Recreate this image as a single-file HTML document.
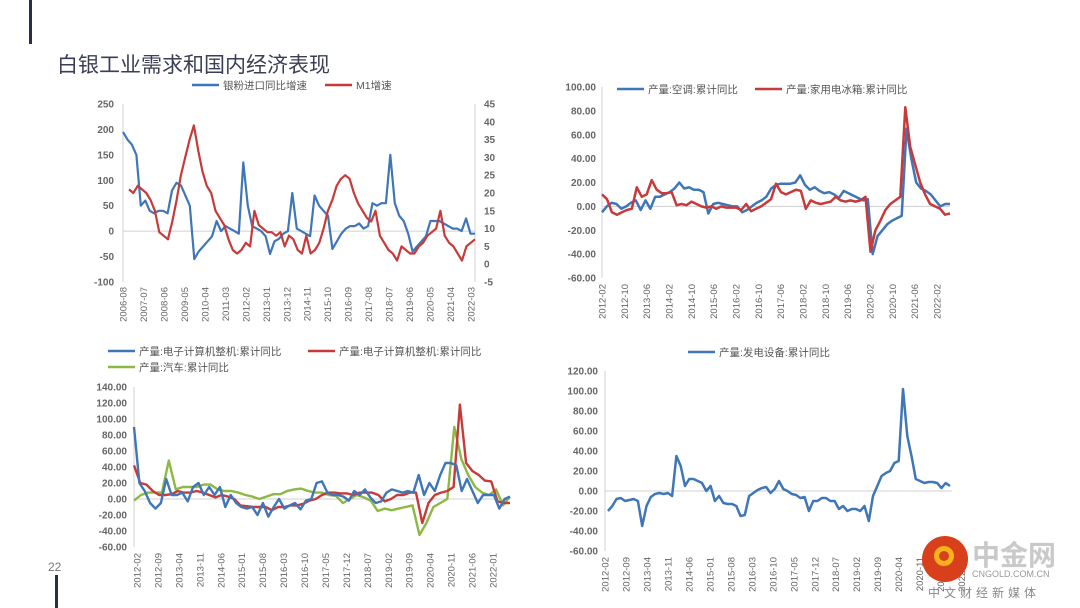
<!DOCTYPE html>
<html><head><meta charset="utf-8"><style>
body{margin:0;width:1080px;height:608px;background:#fff;overflow:hidden;font-family:"Liberation Sans","Noto Sans CJK SC",sans-serif;position:relative}
#title{position:absolute;left:57px;top:49px;font-size:21px;color:#3a3f55}
</style></head><body>
<div style="position:absolute;left:29px;top:0;width:3px;height:44px;background:#2b2f45"></div>
<div style="position:absolute;left:55px;top:575px;width:3px;height:33px;background:#2b2f45"></div>
<div id="title">白银工业需求和国内经济表现</div>
<div style="position:absolute;left:48px;top:560px;font-size:12px;color:#777">22</div>
<svg id="svg" width="1080" height="608" style="position:absolute;left:0;top:0"></svg>
<div style="position:absolute;left:922px;top:536px;width:46px;height:46px;border-radius:50%;background:#d8401c"><div style="position:absolute;left:12px;top:10px;width:20px;height:20px;border-radius:50%;border:5px solid #f6b21a;box-sizing:border-box"></div></div>
<div style="position:absolute;left:972px;top:534px;font-size:28px;font-weight:bold;color:#c9c9c9">中金网</div>
<div style="position:absolute;left:972px;top:569px;font-size:9px;color:#999">CNGOLD.COM.CN</div>
<div style="position:absolute;left:928px;top:584px;font-size:12px;letter-spacing:4px;color:#888">中文财经新媒体</div>
<script>
// ---- chart 1 data ----
const c1Labels=["2006-08","2007-07","2008-06","2009-05","2010-04","2011-03","2012-02","2013-01","2013-12","2014-11","2015-10","2016-09","2017-08","2018-07","2019-06","2020-05","2021-04","2022-03"];
const c1LeftTicks=[250,200,150,100,50,0,-50,-100];
const c1RightTicks=[45,40,35,30,25,20,15,10,5,0,-5];
const c1Silver=[195,180,170,150,50,60,40,35,40,40,35,80,95,90,70,50,-55,-40,-30,-20,-10,20,0,10,5,0,-5,135,50,10,5,0,-10,-45,-20,-15,-5,0,75,5,0,-5,-10,70,50,40,30,-35,-20,-5,5,10,10,15,5,10,55,50,55,55,150,55,30,20,-5,-40,-30,-20,-10,20,20,20,15,10,5,5,0,25,-5,-5];
const c1M1=[21,20,22,21,20,18,15,9,8,7,12,18,25,30,35,39,32,26,22,20,15,13,11,7,4,3,4,6,5,15,11,10,9,9,8,9,5,8,7,4,3,8,3,4,6,10,15,18,22,24,25,24,20,17,15,13,12,15,8,6,4,3,1,5,4,3,3,5,6,8,9,10,15,8,6,5,3,1,5,6,7];
// ---- chart 2 data ----
const c2Labels=["2012-02","2012-10","2013-06","2014-02","2014-10","2015-06","2016-02","2016-10","2017-06","2018-02","2018-10","2019-06","2020-02","2020-10","2021-06","2022-02"];
const c2Ticks=[100,80,60,40,20,0,-20,-40,-60];
const c2AC=[-5,0,3,2,-2,0,3,5,-3,5,-2,8,8,10,12,15,20,15,16,14,14,12,-6,2,3,2,1,0,0,-5,-3,0,3,5,8,15,18,19,19,19,20,26,18,14,16,13,11,12,10,7,13,11,9,7,5,6,-40,-25,-20,-15,-12,-10,-8,65,40,20,15,13,10,5,0,2,2];
const c2Fridge=[10,6,-5,-7,-5,-3,-2,16,8,10,22,14,11,11,12,1,2,1,4,2,0,-1,0,-2,0,-1,-1,-1,-3,2,-4,-2,0,3,6,19,12,10,12,14,13,-2,5,3,2,3,4,8,5,4,5,4,5,8,-38,-20,-12,-3,2,5,8,83,50,35,20,10,2,0,-2,-7,-6];
// ---- chart 3 data ----
const c3Labels=["2012-02","2012-09","2013-04","2013-11","2014-06","2015-01","2015-08","2016-03","2016-10","2017-05","2017-12","2018-07","2019-02","2019-09","2020-04","2020-11","2021-06","2022-01"];
const c3Ticks=[140,120,100,80,60,40,20,0,-20,-40,-60];
const c3PC1=[90,20,10,-5,-12,-5,25,5,5,8,-3,15,20,5,15,5,15,-10,5,-5,-10,-12,-10,-20,-5,-22,-10,0,-12,-8,-5,-13,-2,0,20,22,8,5,5,3,-2,10,5,12,2,-5,-3,8,12,10,8,10,8,30,5,20,10,30,45,45,42,10,25,10,-5,5,5,5,-12,0,3];
const c3PC2=[42,20,18,10,5,5,6,10,8,8,10,8,5,2,5,3,0,-8,-9,-10,-10,-10,-14,-10,-10,-8,-8,-6,-2,0,5,8,8,7,7,5,8,8,8,5,-3,0,5,5,8,8,-30,-5,5,8,10,15,118,45,35,30,23,22,-3,-5,-5];
const c3Car=[-2,5,8,8,8,48,12,15,15,15,18,18,12,10,10,8,5,3,0,3,6,6,10,12,13,10,8,8,5,4,-5,0,5,2,-2,-15,-12,-14,-12,-10,-8,-45,-30,-10,-5,0,90,50,30,15,8,5,12,-8,3];
// ---- chart 4 data ----
const c4Labels=["2012-02","2012-09","2013-04","2013-11","2014-06","2015-01","2015-08","2016-03","2016-10","2017-05","2017-12","2018-07","2019-02","2019-09","2020-04","2020-11","2021-06","2022-01"];
const c4Ticks=[120,100,80,60,40,20,0,-20,-40,-60];
const c4Gen=[-20,-15,-8,-7,-10,-9,-8,-10,-35,-15,-6,-3,-2,-3,-2,-5,35,25,5,12,12,10,8,0,5,-10,-5,-12,-13,-13,-15,-25,-24,-5,-2,1,3,4,-2,2,10,2,0,-3,-4,-7,-6,-20,-10,-10,-7,-7,-10,-10,-18,-15,-20,-18,-18,-20,-15,-30,-5,5,15,18,20,28,30,102,55,35,12,10,8,9,9,8,3,8,5];

const svg=document.getElementById('svg');const NS='http://www.w3.org/2000/svg';
function mk(t,a,parent){const e=document.createElementNS(NS,t);for(const k in a)e.setAttribute(k,a[k]);(parent||svg).appendChild(e);return e;}
const BLUE='#3f76b8',RED='#c83a3a',GREEN='#8cb843',TC='#666';
function yScale(top,bot,max,min){return v=>top+(max-v)/(max-min)*(bot-top);}
function xScale(l,r,n){return i=>l+i*(r-l)/(n-1);}
function line(vals,x0,x1,ys,color,name,w){
  const xs=xScale(x0,x1,vals.length);
  const p=mk('polyline',{points:vals.map((v,i)=>xs(i).toFixed(1)+','+ys(v).toFixed(1)).join(' '),fill:'none',stroke:color,'stroke-width':w||2.2,'stroke-linejoin':'round'});
  
  
}
function yTicks(ticks,ys,x,anchor,fmt,name){ticks.forEach(t=>{const e=mk('text',{x:x,y:ys(t)+3.5,'font-size':10,'text-anchor':anchor,fill:TC,'font-weight':'bold'});e.textContent=fmt(t);
  
  });}
function xLabels(labels,x0,x1,y,name){const xs=xScale(x0,x1,labels.length);labels.forEach((l,i)=>{const e=mk('text',{x:0,y:0,'font-size':9.5,'text-anchor':'end',fill:TC,transform:`translate(${xs(i)+3.5},${y}) rotate(-90)`});e.textContent=l;
  
  });}
function legend(x,y,color,text,name){mk('line',{x1:x,y1:y,x2:x+27,y2:y,stroke:color,'stroke-width':2.5});const e=mk('text',{x:x+31,y:y+4,'font-size':10.5,fill:'#555'});e.textContent=text;
  
  }
function zero(x0,x1,y){mk('line',{x1:x0,y1:y,x2:x1,y2:y,stroke:'#d0d0d0','stroke-width':1});}
function vaxis(x,y0,y1){mk('line',{x1:x,y1:y0,x2:x,y2:y1,stroke:'#d0d0d0','stroke-width':1});}
const f2=t=>t.toFixed(2);

// chart 1
{const L=123,R=475,ysL=yScale(104,282,250,-100),ysR=yScale(104,282,45,-5);
vaxis(L,104,282);vaxis(R,104,282);zero(L,R,ysL(0));
yTicks(c1LeftTicks,ysL,114,'end',t=>String(t),'c1-left-tick');
yTicks(c1RightTicks,ysR,484,'start',t=>String(t),'c1-right-tick');
xLabels(c1Labels,L,471,287,'c1-x-label');
line(c1Silver,L,R,ysL,BLUE,'silver-import-line');
line(c1M1,129,R,ysR,RED,'m1-growth-line');
legend(192,85,BLUE,'银粉进口同比增速','c1-legend-silver');legend(325,85,RED,'M1增速','c1-legend-m1');}
// chart 2
{const L=602,R=950,ys=yScale(87,278,100,-60);
vaxis(L,87,278);zero(L,R,ys(0));
yTicks(c2Ticks,ys,596,'end',f2,'c2-y-tick');
xLabels(c2Labels,L,937,284,'c2-x-label');
line(c2AC,L,R,ys,BLUE,'aircon-line',2.5);
line(c2Fridge,L,R,ys,RED,'fridge-line',2.5);
legend(617,89,BLUE,'产量:空调:累计同比','c2-legend-aircon');legend(755,89,RED,'产量:家用电冰箱:累计同比','c2-legend-fridge');}
// chart 3
{const L=134,R=510,ys=yScale(387,547,140,-60);
vaxis(L,387,547);zero(L,R,ys(0));
yTicks(c3Ticks,ys,127,'end',f2,'c3-y-tick');
xLabels(c3Labels,137,493,553,'c3-x-label');
line(c3Car,L,R,ys,GREEN,'car-line',2.4);
line(c3PC2,L,R,ys,RED,'computer-line-red',2.4);
line(c3PC1,L,R,ys,BLUE,'computer-line-blue',2.4);
legend(108,351,BLUE,'产量:电子计算机整机:累计同比','c3-legend-blue');legend(308,351,RED,'产量:电子计算机整机:累计同比','c3-legend-red');legend(108,367,GREEN,'产量:汽车:累计同比','c3-legend-car');}
// chart 4
{const L=605,R=952,ys=yScale(371,551,120,-60);
vaxis(L,371,551);zero(L,R,ys(0));
yTicks(c4Ticks,ys,598,'end',f2,'c4-y-tick');
xLabels(c4Labels,L,917+2*22.3,557,'c4-x-label');
line(c4Gen,L+3,R-2,ys,BLUE,'power-equipment-line',2.5);
legend(688,352,BLUE,'产量:发电设备:累计同比','c4-legend');}
</script>
</body></html>
